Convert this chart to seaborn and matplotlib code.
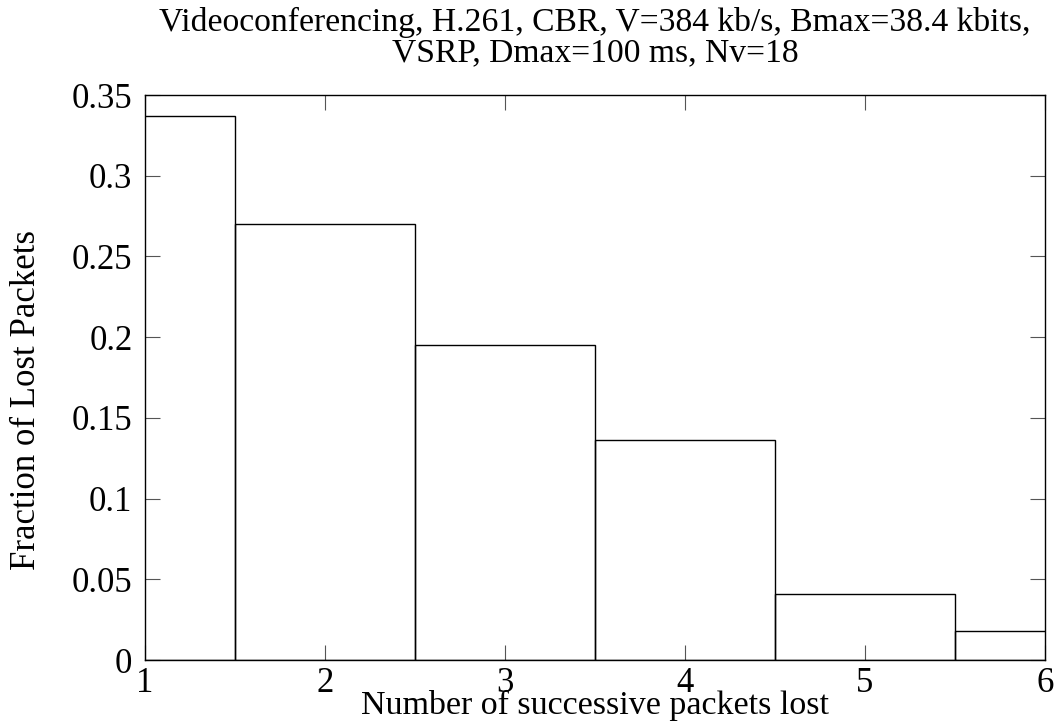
import matplotlib
matplotlib.use("Agg")
import matplotlib.pyplot as plt
import seaborn as sns
import pandas as pd

# Burst-length distribution of lost packets
burst_len = [1, 2, 3, 4, 5, 6]
fraction_lost = [0.337, 0.270, 0.195, 0.136, 0.041, 0.018]
y_ticks = [0, 0.05, 0.1, 0.15, 0.2, 0.25, 0.3, 0.35]
y_tick_labels = ["0", "0.05", "0.1", "0.15", "0.2", "0.25", "0.3", "0.35"]
x_ticks = [1, 2, 3, 4, 5, 6]

sns.set_theme(style="white")
plt.rcParams["font.family"] = ["Liberation Serif", "DejaVu Serif"]
plt.rcParams.update({"text.color": "black", "axes.labelcolor": "black",
                     "xtick.labelcolor": "black", "ytick.labelcolor": "black"})

df = pd.DataFrame({"burst": burst_len, "fraction": fraction_lost})

fig = plt.figure(figsize=(10.58, 7.23), dpi=100)
ax = fig.add_axes([0.1370, 0.0871, 0.8507, 0.7815])

sns.barplot(data=df, x="burst", y="fraction", native_scale=True, width=1.0,
            fill=False, color="black", linewidth=1.0, errorbar=None, ax=ax)
for p in ax.patches:
    p.set_edgecolor("black")
    p.set_facecolor("none")

ax.set_xlim(1, 6)
ax.set_ylim(0, 0.35)
ax.set_xticks(x_ticks)
ax.set_xticklabels([str(v) for v in x_ticks])
ax.set_yticks(y_ticks)
ax.set_yticklabels(y_tick_labels)

ax.tick_params(direction="in", length=11, width=0.8, color="#555555",
               labelcolor="black", top=True, right=True, bottom=True, left=True,
               labelsize=25)
ax.tick_params(axis="x", pad=5)
ax.tick_params(axis="y", pad=9)
for s in ax.spines.values():
    s.set_visible(True)
    s.set_color("black")
    s.set_linewidth(1.0)

ax.set_xlabel("Number of successive packets lost", fontsize=24.5, labelpad=-7,
              color="black")
ax.set_ylabel("Fraction of Lost Packets", fontsize=25, color="black")
ax.yaxis.set_label_coords(-0.113, 0.46)
ax.set_title("Videoconferencing, H.261, CBR, V=384 kb/s, Bmax=38.4 kbits,\n"
             "VSRP, Dmax=100 ms, Nv=18", fontsize=24.2, linespacing=1.0, pad=24,
             color="black")

fig.savefig("out.png", dpi=100, facecolor="white")
